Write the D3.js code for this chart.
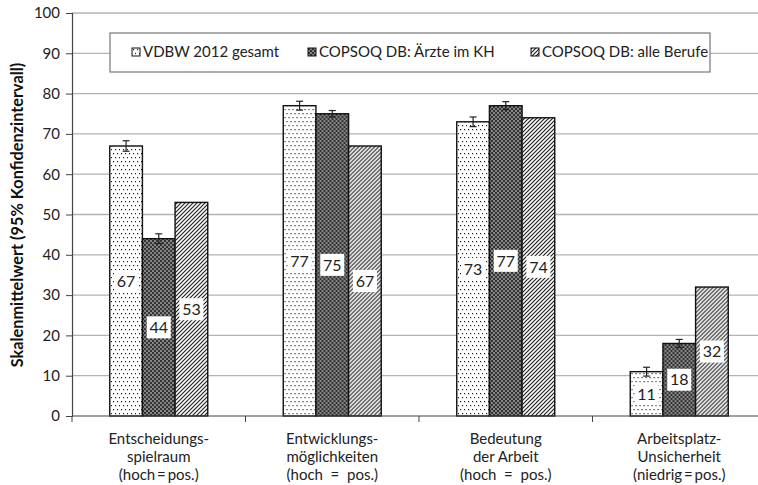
<!DOCTYPE html>
<html>
<head>
<meta charset="utf-8">
<script src="https://cdn.jsdelivr.net/npm/d3@7"></script>
<style>
  html, body { margin: 0; padding: 0; background: #fff; }
  svg { display: block; font-family: Lato, "Open Sans", sans-serif; }
</style>
</head>
<body>
<svg id="chart" width="758" height="485"></svg>
<script>
// Scale categories (three label lines each)
const categories = [
  ["Entscheidungs-", "spielraum", "(hoch\u2009=\u2009pos.)"],
  ["Entwicklungs-", "möglichkeiten", "(hoch  =  pos.)"],
  ["Bedeutung", "der Arbeit", "(hoch  =  pos.)"],
  ["Arbeitsplatz-", "Unsicherheit", "(niedrig\u2009=\u2009pos.)"]
];
const seriesNames = ["VDBW 2012 gesamt", "COPSOQ DB: Ärzte im KH", "COPSOQ DB: alle Berufe"];
// Mean scale values per series, one per category
const vdbw   = [67, 77, 73, 11];
const aerzte = [44, 75, 77, 18];
const alle   = [53, 67, 74, 32];
// Half-width of the 95% confidence interval (null = not shown)
const ciVdbw   = [1.3, 1.1, 1.2, 1.1];
const ciAerzte = [1.2, 0.8, 1.0, 1.0];
const ciAlle   = [null, null, null, null];
const yTicks = [0, 10, 20, 30, 40, 50, 60, 70, 80, 90, 100];

const values = [vdbw, aerzte, alle];
const cis = [ciVdbw, ciAerzte, ciAlle];
const patterns = ["pDots", "pChecker", "pHatch"];

const svg = d3.select("#chart");
const plotLeft = 72, plotRight = 766, plotTop = 13, plotBottom = 416;

// Fill patterns
const defs = svg.append("defs");
const pd = defs.append("pattern").attr("id", "pDots").attr("patternUnits", "userSpaceOnUse")
  .attr("width", 8).attr("height", 8);
pd.append("rect").attr("width", 8).attr("height", 8).attr("fill", "#fff");
[[1, 1], [5, 1], [3, 5], [7, 5]].forEach(([x, y]) =>
  pd.append("rect").attr("x", x).attr("y", y).attr("width", 1.2).attr("height", 1.2).attr("fill", "#222"));

const pc = defs.append("pattern").attr("id", "pChecker").attr("patternUnits", "userSpaceOnUse")
  .attr("width", 4).attr("height", 4);
pc.append("rect").attr("width", 4).attr("height", 4).attr("fill", "#858585");
pc.append("rect").attr("x", 0).attr("y", 0).attr("width", 2).attr("height", 2).attr("fill", "#333");
pc.append("rect").attr("x", 2).attr("y", 2).attr("width", 2).attr("height", 2).attr("fill", "#333");

const ph = defs.append("pattern").attr("id", "pHatch").attr("patternUnits", "userSpaceOnUse")
  .attr("width", 4).attr("height", 4);
ph.append("rect").attr("width", 4).attr("height", 4).attr("fill", "#fff");
ph.append("path").attr("d", "M-1,1 L1,-1 M0,4 L4,0 M3,5 L5,3")
  .attr("stroke", "#222").attr("stroke-width", 1.2);

// Scales
const x0 = d3.scaleBand().domain(d3.range(categories.length)).range([plotLeft, plotRight]);
const barGroup = 98;
const x1 = d3.scaleBand().domain(d3.range(seriesNames.length))
  .range([(x0.bandwidth() - barGroup) / 2, (x0.bandwidth() + barGroup) / 2]);
const y = d3.scaleLinear().domain([0, 100]).range([plotBottom, plotTop]);

// Grid
svg.append("g").selectAll("line").data(yTicks.filter(t => t > 0)).join("line")
  .attr("x1", plotLeft).attr("x2", 758)
  .attr("y1", d => y(d)).attr("y2", d => y(d))
  .attr("stroke", "#b3b3b3").attr("stroke-width", 1.3);

// Y axis
const yAxis = svg.append("g").attr("transform", `translate(${plotLeft},0)`)
  .call(d3.axisLeft(y).tickValues(yTicks).tickSize(6).tickPadding(6));
yAxis.select(".domain").attr("stroke", "#444").attr("stroke-width", 1.2);
yAxis.selectAll(".tick line").attr("stroke", "#444");
yAxis.selectAll(".tick text").attr("font-family", "Lato, sans-serif").attr("font-size", 15).attr("fill", "#222");

// Bars
const groups = svg.append("g").selectAll("g").data(categories).join("g")
  .attr("transform", (d, i) => `translate(${x0(i)},0)`);

groups.each(function (c, ci) {
  const g = d3.select(this);
  seriesNames.forEach((s, si) => {
    const v = values[si][ci];
    g.append("rect")
      .attr("x", x1(si)).attr("width", x1.bandwidth())
      .attr("y", y(v)).attr("height", y(0) - y(v))
      .attr("fill", `url(#${patterns[si]})`)
      .attr("stroke", "#111").attr("stroke-width", 1.4);
  });
  seriesNames.forEach((s, si) => {
    const v = values[si][ci], e = cis[si][ci];
    if (e == null) return;
    const cx = x1(si) + x1.bandwidth() / 2;
    const eb = g.append("g").attr("stroke", "#222").attr("stroke-width", 1.2);
    eb.append("line").attr("x1", cx).attr("x2", cx).attr("y1", y(v + e)).attr("y2", y(v - e));
    eb.append("line").attr("x1", cx - 3.5).attr("x2", cx + 3.5).attr("y1", y(v + e)).attr("y2", y(v + e));
    eb.append("line").attr("x1", cx - 3.5).attr("x2", cx + 3.5).attr("y1", y(v - e)).attr("y2", y(v - e));
  });
  // Value labels at half bar height
  seriesNames.forEach((s, si) => {
    const v = values[si][ci];
    const cx = x1(si) + x1.bandwidth() / 2, cy = y(v / 2);
    g.append("rect").attr("x", cx - 12).attr("y", cy - 11).attr("width", 24).attr("height", 22)
      .attr("fill", "#fff");
    g.append("text").attr("x", cx).attr("y", cy).attr("dy", "0.36em")
      .attr("text-anchor", "middle").attr("font-size", 16).attr("fill", "#222")
      .text(d3.format(".0f")(v));
  });
});

// X axis baseline and category separators
svg.append("line").attr("x1", plotLeft).attr("x2", 758).attr("y1", plotBottom).attr("y2", plotBottom)
  .attr("stroke", "#444").attr("stroke-width", 1.2);
svg.append("g").selectAll("line").data(d3.range(categories.length + 1)).join("line")
  .attr("x1", i => plotLeft + i * x0.bandwidth()).attr("x2", i => plotLeft + i * x0.bandwidth())
  .attr("y1", plotBottom).attr("y2", plotBottom + 6).attr("stroke", "#444");

// Category labels
groups.append("text").attr("text-anchor", "middle").attr("font-size", 15).attr("fill", "#222")
  .attr("x", x0.bandwidth() / 2)
  .selectAll("tspan").data(d => d).join("tspan")
  .attr("x", x0.bandwidth() / 2).attr("y", (d, i) => 444 + i * 18)
  .attr("xml:space", "preserve").style("white-space", "pre")
  .text(d => d);

// Y axis title
svg.append("text").attr("transform", "translate(23,215) rotate(-90)")
  .attr("text-anchor", "middle").attr("font-size", 16.3).attr("font-weight", "bold").attr("fill", "#111")
  .text("Skalenmittelwert (95% Konfidenzintervall)");

// Legend
const lg = svg.append("g");
lg.append("rect").attr("x", 110).attr("y", 33).attr("width", 600).attr("height", 39)
  .attr("fill", "#fff").attr("stroke", "#777").attr("stroke-width", 1.2);
const legendX = [132, 308, 531];
seriesNames.forEach((s, si) => {
  lg.append("rect").attr("x", legendX[si]).attr("y", 48).attr("width", 8).attr("height", 8)
    .attr("fill", `url(#${patterns[si]})`).attr("stroke", "#111").attr("stroke-width", 1);
  lg.append("text").attr("x", legendX[si] + 11).attr("y", 52).attr("dy", "0.36em")
    .attr("font-size", 15).attr("fill", "#222").text(s);
});
</script>
</body>
</html>
